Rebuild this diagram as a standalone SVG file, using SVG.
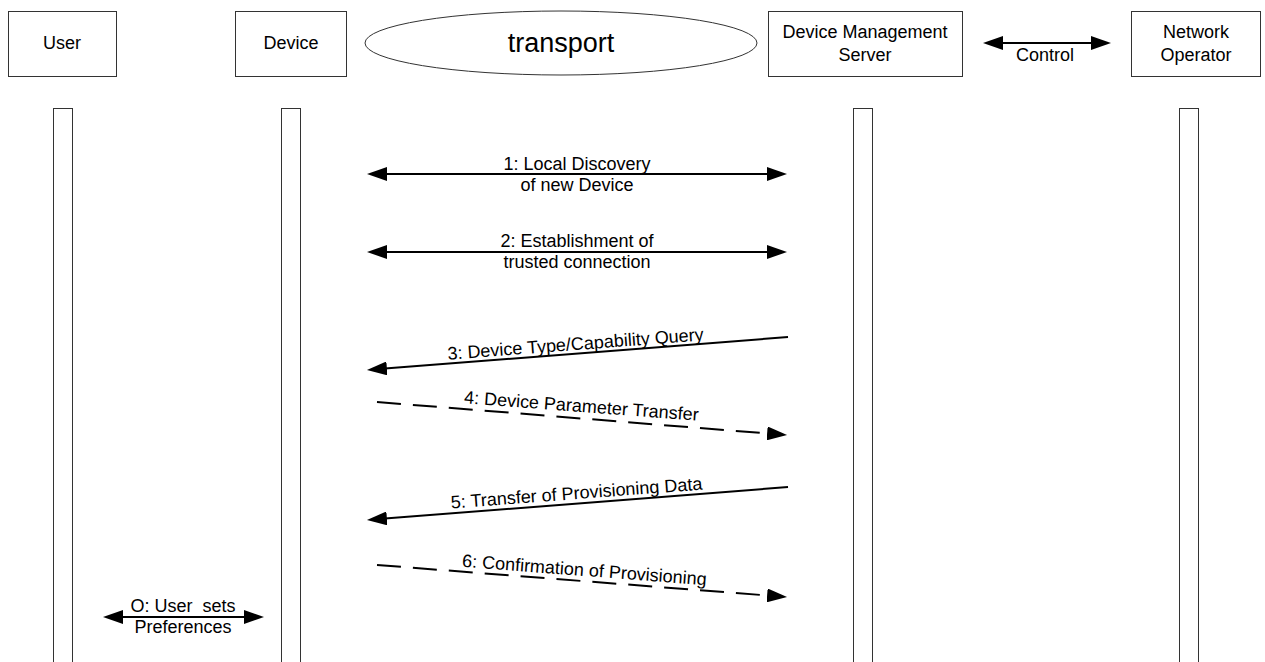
<svg xmlns="http://www.w3.org/2000/svg" width="1265" height="662" viewBox="0 0 1265 662">
<style>
  .box { fill: #ffffff; stroke: #333333; stroke-width: 1; }
  .life { fill: #ffffff; stroke: #333333; stroke-width: 1; }
  .t { font-family: "Liberation Sans", Arial, sans-serif; font-size: 18px; fill: #000000; text-anchor: middle; }
  .big { font-size: 27px; }
  .msg { stroke: #000000; stroke-width: 2; fill: none; }
  .dash { stroke-dasharray: 24 12; }
</style>
<defs>
  <marker id="ah" markerUnits="userSpaceOnUse" markerWidth="20" markerHeight="14" refX="2" refY="7" orient="auto-start-reverse" viewBox="0 0 20 14">
    <path d="M0,0 L20,7 L0,14 z" fill="#000000"/>
  </marker>
</defs>
<rect x="0" y="0" width="1265" height="662" fill="#ffffff"/>

<g id="node-user">
  <rect class="box" x="8.5" y="11.5" width="108" height="65"/>
  <text class="t" x="62" y="49">User</text>
</g>
<g id="node-device">
  <rect class="box" x="235.5" y="11.5" width="111" height="65"/>
  <text class="t" x="291" y="49">Device</text>
</g>
<g id="node-transport">
  <ellipse class="box" cx="561" cy="43" rx="196" ry="32"/>
  <text class="t big" x="561" y="52">transport</text>
</g>
<g id="node-dms">
  <rect class="box" x="768.5" y="11.5" width="194" height="65"/>
  <text class="t" x="865" y="38">Device Management</text>
  <text class="t" x="865" y="61">Server</text>
</g>
<g id="node-operator">
  <rect class="box" x="1131.5" y="11.5" width="129" height="65"/>
  <text class="t" x="1196" y="38">Network</text>
  <text class="t" x="1196" y="61">Operator</text>
</g>

<g id="lifelines">
  <rect class="life" x="53.5" y="108.5" width="19" height="560"/>
  <rect class="life" x="281.5" y="108.5" width="19" height="560"/>
  <rect class="life" x="853.5" y="108.5" width="19" height="560"/>
  <rect class="life" x="1179.5" y="108.5" width="19" height="560"/>
</g>

<g id="connectors">
  <line class="msg" x1="1001" y1="43" x2="1093" y2="43" marker-start="url(#ah)" marker-end="url(#ah)"/>
  <line class="msg" x1="385" y1="174" x2="769" y2="174" marker-start="url(#ah)" marker-end="url(#ah)"/>
  <line class="msg" x1="385" y1="252" x2="769" y2="252" marker-start="url(#ah)" marker-end="url(#ah)"/>
  <line class="msg" x1="788" y1="337" x2="384.9" y2="368.6" marker-end="url(#ah)"/>
  <line class="msg dash" x1="377" y1="402" x2="769.1" y2="433.6" marker-end="url(#ah)"/>
  <line class="msg" x1="788" y1="487" x2="384.9" y2="518.6" marker-end="url(#ah)"/>
  <line class="msg dash" x1="377" y1="565" x2="769.1" y2="595.6" marker-end="url(#ah)"/>
  <line class="msg" x1="121" y1="617" x2="246" y2="617" marker-start="url(#ah)" marker-end="url(#ah)"/>
</g>

<g id="labels">
  <text class="t" x="1045" y="61">Control</text>
  <text class="t" x="577" y="170">1: Local Discovery</text>
  <text class="t" x="577" y="191">of new Device</text>
  <text class="t" x="577" y="247">2: Establishment of</text>
  <text class="t" x="577" y="268">trusted connection</text>
  <text class="t" x="576" y="350" transform="rotate(-4.3 576 350)">3: Device Type/Capability Query</text>
  <text class="t" x="581" y="412" transform="rotate(4.3 581 412)">4: Device Parameter Transfer</text>
  <text class="t" x="577" y="499" transform="rotate(-4.3 577 499)">5: Transfer of Provisioning Data</text>
  <text class="t" x="584" y="576" transform="rotate(4.3 584 576)">6: Confirmation of Provisioning</text>
  <text class="t" x="183" y="612" xml:space="preserve" style="white-space: pre">O: User  sets</text>
  <text class="t" x="183" y="633">Preferences</text>
</g>
</svg>
